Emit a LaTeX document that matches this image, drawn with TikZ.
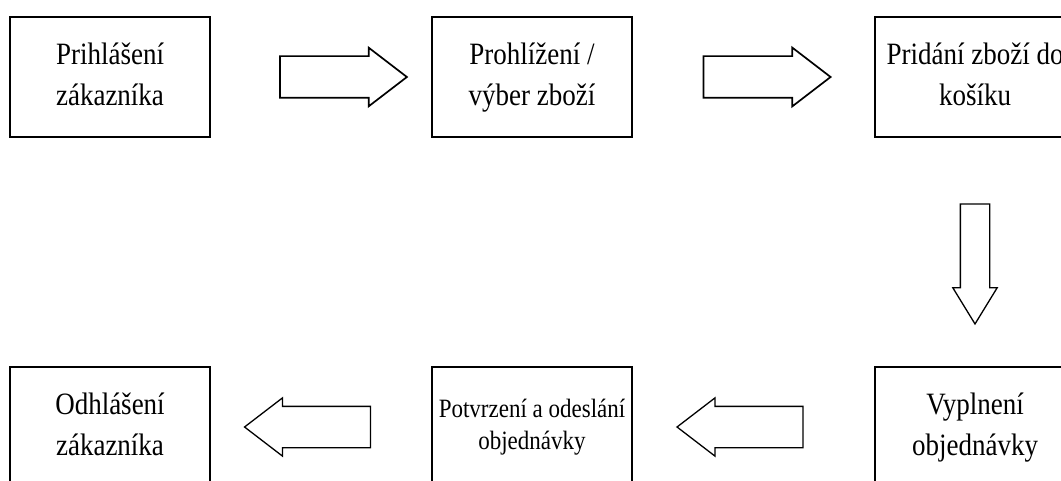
\documentclass[tikz,border=0pt]{standalone}
\usepackage{fontspec}
\setmainfont{Liberation Serif}
\usetikzlibrary{shapes.arrows,calc}
\newcommand{\popis}[1]{\scalebox{1}[1.15]{\begin{tabular}{@{}c@{}}#1\end{tabular}}}

\begin{document}
\begin{tikzpicture}[x=1pt,y=-1pt,
	krok/.style={draw=cb,line width=1.6pt,minimum width=200pt,minimum height=120pt,inner sep=0pt,align=center,text=ct,font=\fontsize{27}{35}\selectfont},
	sipka/.style={draw=cs,fill=white,single arrow,line width=1.3pt,inner sep=20pt,single arrow head extend=8.5pt,single arrow tip angle=75,minimum height=127pt}]
				\definecolor{cb}{rgb}{0.0,0.0,0.0}
				\definecolor{cs}{rgb}{0.0,0.0,0.0}
				\definecolor{ct}{rgb}{0.0,0.0,0.0}
				%
				\useasboundingbox[fill=white] (0,0) rectangle (1061,481);
				%
				\node[krok] (b1) at (110,77) {\popis{Prihlášení\\zákazníka}};
				\node[krok] (b2) at (532,77) {\popis{Prohlížení /\\výber zboží}};
				\node[krok] (b3) at (975,77) {\popis{Pridání zboží do\\košíku}};
				\node[krok] (b4) at (110,427) {\popis{Odhlášení\\zákazníka}};
				\node[krok,font=\fontsize{23}{28}\selectfont] (b5) at (532,427) {\popis{Potvrzení a odeslání\\objednávky}};
				\node[krok] (b6) at (975,427) {\popis{Vyplnení\\objednávky}};
				%
				\node[sipka,line width=1.7pt] (s12) at ($(b1.east)!0.54!(b2.west)$) {};
				\node[sipka,line width=1.7pt] (s23) at ($(b2.east)!0.5!(b3.west)$) {};
				\node[sipka,rotate=-90,inner sep=14pt,single arrow head extend=7.5pt,single arrow tip angle=63,minimum height=120pt] (s36) at ($(b3.south)!0.5!(b6.north)$) {};
				\node[sipka,rotate=180,minimum height=126pt] (s65) at ($(b6.west)!0.5!(b5.east)$) {};
				\node[sipka,rotate=180,minimum height=126pt] (s54) at ($(b5.west)!0.5!(b4.east)$) {};
				%
			\end{tikzpicture}
\end{document}
